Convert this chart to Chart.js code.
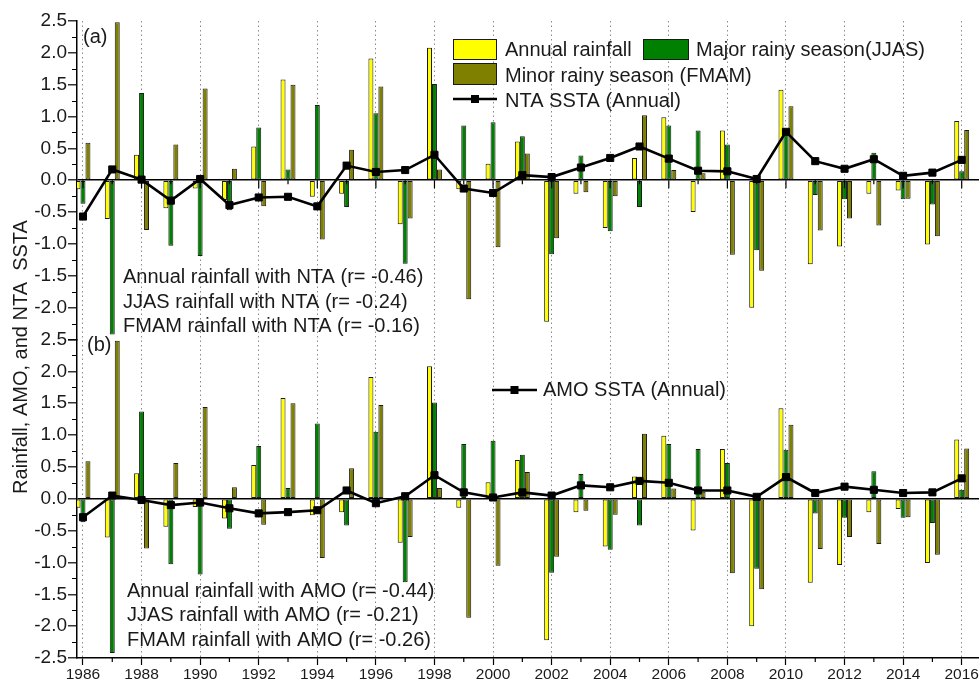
<!DOCTYPE html>
<html>
<head>
<meta charset="utf-8">
<script src="https://cdn.jsdelivr.net/npm/chart.js@4.4.1/dist/chart.umd.min.js"></script>
<style>
  html, body { margin: 0; padding: 0; background: #fff; overflow: hidden; width: 979px; height: 682px; }
  canvas { display: block; }
</style>
</head>
<body>
<canvas id="chart" width="997" height="682"></canvas>
<script>
// Years on the shared time axis
const years = [1986, 1987, 1988, 1989, 1990, 1991, 1992, 1993, 1994, 1995, 1996,
               1997, 1998, 1999, 2000, 2001, 2002, 2003, 2004, 2005, 2006,
               2007, 2008, 2009, 2010, 2011, 2012, 2013, 2014, 2015, 2016];

// Standardised rainfall anomalies
const annualRain = [-0.14, -0.61, 0.40, -0.44, -0.13, -0.31, 0.53, 1.58, -0.26, -0.21, 1.91,
                    -0.69, 2.08, -0.14, 0.26, 0.61, -2.22, -0.21, -0.75, 0.35, 0.99,
                    -0.50, 0.78, -2.00, 1.42, -1.32, -1.04, -0.21, -0.16, -1.01, 0.93];
const jjasRain = [-0.37, -2.42, 1.37, -1.03, -1.19, -0.47, 0.83, 0.17, 1.18, -0.42, 1.05,
                  -1.31, 1.51, 0.86, 0.91, 0.69, -1.16, 0.39, -0.80, -0.42, 0.86,
                  0.78, 0.56, -1.10, 0.77, -0.23, -0.30, 0.43, -0.30, -0.38, 0.14];
const fmamRain = [0.59, 2.48, -0.78, 0.56, 1.44, 0.18, -0.41, 1.50, -0.93, 0.48, 1.47,
                  -0.60, 0.17, -1.87, -1.05, 0.42, -0.91, -0.19, -0.25, 1.02, 0.16,
                  0.11, -1.17, -1.42, 1.16, -0.79, -0.60, -0.71, -0.29, -0.88, 0.79];

// Annual sea surface temperature anomalies
const ntaSsta = [-0.57, 0.17, 0.01, -0.32, 0.02, -0.39, -0.27, -0.26, -0.41, 0.23, 0.13,
                 0.16, 0.40, -0.13, -0.20, 0.08, 0.05, 0.20, 0.35, 0.53, 0.34,
                 0.15, 0.14, 0.02, 0.76, 0.30, 0.18, 0.33, 0.07, 0.12, 0.32];
const amoSsta = [-0.29, 0.05, -0.02, -0.10, -0.06, -0.15, -0.23, -0.21, -0.18, 0.13, -0.07,
                 0.04, 0.37, 0.10, 0.02, 0.10, 0.05, 0.21, 0.18, 0.28, 0.25,
                 0.13, 0.13, 0.03, 0.34, 0.09, 0.19, 0.14, 0.09, 0.10, 0.32];

// Tick labels
const yearTicks = [1986, 1988, 1990, 1992, 1994, 1996, 1998, 2000, 2002, 2004, 2006,
                   2008, 2010, 2012, 2014, 2016];
const valueTicks = [-2.5, -2.0, -1.5, -1.0, -0.5, 0.0, 0.5, 1.0, 1.5, 2.0, 2.5];
const minorValueTicks = [-2.25, -1.75, -1.25, -0.75, -0.25, 0.25, 0.75, 1.25, 1.75, 2.25];

// Texts
const seriesNames = ['Annual rainfall', 'Major rainy season(JJAS)', 'Minor rainy season (FMAM)'];
const ntaName = 'NTA SSTA (Annual)';
const amoName = 'AMO SSTA (Annual)';
const corrTextA = ['Annual rainfall with NTA (r= -0.46)',
                   'JJAS rainfall with NTA (r= -0.24)',
                   'FMAM rainfall with NTA (r= -0.16)'];
const corrTextB = ['Annual rainfall with AMO (r= -0.44)',
                   'JJAS rainfall with AMO (r= -0.21)',
                   'FMAM rainfall with AMO (r= -0.26)'];
const yTitle = 'Rainfall, AMO, and NTA  SSTA';

const FONT = "'Liberation Sans', Arial, sans-serif";
const COLORS = { annual: '#ffff00', jjas: '#008000', fmam: '#808000', edge: '#1a1a1a', text: '#1a1a1a' };

const pts = arr => years.map((y, i) => ({ x: y, y: arr[i] }));

function barSet(label, arr, color, axis, stack) {
  return {
    type: 'bar', label, data: pts(arr), yAxisID: axis, stack,
    backgroundColor: color, borderColor: COLORS.edge, borderWidth: 1,
    borderSkipped: false, categoryPercentage: 0.51, barPercentage: 1.0, order: 1
  };
}
function lineSet(label, arr, axis) {
  return {
    type: 'line', label, data: pts(arr), yAxisID: axis,
    borderColor: '#000', borderWidth: 2.6, tension: 0, fill: false,
    pointStyle: 'rect', pointRadius: 5, pointBackgroundColor: '#000',
    pointBorderColor: '#000', pointBorderWidth: 1, order: 0
  };
}

function valueScale(hideLowest, weight) {
  return {
    type: 'linear', position: 'left', stack: 'panels', stackWeight: 1, weight,
    min: -2.5, max: 2.5,
    afterFit: s => { s.width = 77; },
    afterBuildTicks: s => { s.ticks = valueTicks.map(v => ({ value: v })); },
    ticks: {
      autoSkip: false, color: COLORS.text, font: { family: FONT, size: 19 }, padding: 1,
      callback: v => (hideLowest && v === -2.5) ? '' : v.toFixed(1)
    },
    grid: {
      color: c => (c.tick && c.tick.value === 0) ? '#000' : 'rgba(0,0,0,0)',
      lineWidth: 1.6, tickColor: '#000', tickLength: 9, tickWidth: 1.2, offset: false
    },
    border: { display: true, color: '#000', width: 1.5 }
  };
}

// Minor tick marks on the axes and on the zero line of panel (a)
const minorTicks = {
  id: 'minorTicks',
  afterDraw(chart) {
    const { ctx, scales } = chart;
    const x = scales.x, left = chart.chartArea.left, bottom = chart.chartArea.bottom;
    ctx.save();
    ctx.strokeStyle = '#000';
    ctx.lineWidth = 1.2;
    ctx.beginPath();
    for (const id of ['yA', 'yB']) {
      const s = scales[id];
      minorValueTicks.forEach(v => {
        const py = Math.round(s.getPixelForValue(v)) + 0.5;
        ctx.moveTo(left - 5, py); ctx.lineTo(left, py);
      });
    }
    const zeroA = scales.yA.getPixelForValue(0);
    years.forEach(yr => {
      const px = x.getPixelForValue(yr);
      const major = yr % 2 === 0;
      if (!major) { ctx.moveTo(px, bottom); ctx.lineTo(px, bottom + 4); }
      ctx.moveTo(px, zeroA); ctx.lineTo(px, zeroA + (major ? 8 : 4));
    });
    ctx.stroke();
    ctx.restore();
  }
};

// Panel labels, legends, correlation notes and the shared y title
const overlay = {
  id: 'overlay',
  afterDraw(chart) {
    const ctx = chart.ctx;
    ctx.save();
    ctx.fillStyle = COLORS.text;
    ctx.font = `20px ${FONT}`;
    ctx.textBaseline = 'alphabetic';
    ctx.textAlign = 'left';

    ctx.fillText('(a)', 83, 43);
    ctx.fillText('(b)', 87, 351);

    corrTextA.forEach((t, i) => ctx.fillText(t, 123, 283 + i * 24.5));
    corrTextB.forEach((t, i) => ctx.fillText(t, 127, 597 + i * 24.3));

    const box = (x, y, w, h, c) => {
      ctx.fillStyle = c; ctx.fillRect(x, y, w, h);
      ctx.strokeStyle = COLORS.edge; ctx.lineWidth = 1; ctx.strokeRect(x + 0.5, y + 0.5, w - 1, h - 1);
    };
    const lineKey = (x1, x2, y) => {
      ctx.strokeStyle = '#000'; ctx.lineWidth = 2.6;
      ctx.beginPath(); ctx.moveTo(x1, y); ctx.lineTo(x2, y); ctx.stroke();
      ctx.fillStyle = '#000';
      const cx = (x1 + x2) / 2;
      ctx.fillRect(cx - 4, y - 4, 8, 8);
    };

    box(453, 39, 44, 21, COLORS.annual);
    box(643, 39, 46, 21, COLORS.jjas);
    box(453, 63, 44, 22, COLORS.fmam);
    lineKey(453, 497, 99);
    lineKey(492, 537, 390);

    ctx.fillStyle = COLORS.text;
    ctx.fillText(seriesNames[0], 505, 56);
    ctx.fillText(seriesNames[1], 696, 56);
    ctx.fillText(seriesNames[2], 505, 82);
    ctx.fillText(ntaName, 505, 107);
    ctx.fillText(amoName, 543, 396);

    ctx.translate(27, 357);
    ctx.rotate(-Math.PI / 2);
    ctx.textAlign = 'center';
    ctx.fillText(yTitle, 0, 0);
    ctx.restore();
  }
};

new Chart(document.getElementById('chart'), {
  type: 'bar',
  data: {
    datasets: [
      lineSet(ntaName, ntaSsta, 'yA'),
      barSet(seriesNames[0], annualRain, COLORS.annual, 'yA', 's1'),
      barSet(seriesNames[1], jjasRain, COLORS.jjas, 'yA', 's2'),
      barSet(seriesNames[2], fmamRain, COLORS.fmam, 'yA', 's3'),
      lineSet(amoName, amoSsta, 'yB'),
      barSet(seriesNames[0], annualRain, COLORS.annual, 'yB', 's1'),
      barSet(seriesNames[1], jjasRain, COLORS.jjas, 'yB', 's2'),
      barSet(seriesNames[2], fmamRain, COLORS.fmam, 'yB', 's3')
    ]
  },
  options: {
    responsive: false,
    animation: false,
    layout: { padding: { top: 21, left: 0, right: 0, bottom: 0 } },
    plugins: { legend: { display: false }, tooltip: { enabled: false } },
    scales: {
      x: {
        type: 'linear', position: 'bottom', min: 1986 - 0.204, max: 2017,
        offset: false,
        afterFit: s => { s.height = 24; },
        afterBuildTicks: s => { s.ticks = yearTicks.map(v => ({ value: v })); },
        ticks: {
          autoSkip: false, maxRotation: 0, padding: 0, color: COLORS.text,
          font: { family: FONT, size: 15.5 }, callback: v => String(v)
        },
        grid: {
          color: '#8c8c8c', lineWidth: 1, offset: false,
          tickColor: '#000', tickLength: 7, tickWidth: 1.2, tickBorderDash: []
        },
        border: { display: true, color: '#000', width: 1.5, dash: [1.5, 3] }
      },
      yA: valueScale(true, 2),
      yB: valueScale(false, 1)
    }
  },
  plugins: [minorTicks, overlay]
});
</script>
</body>
</html>
